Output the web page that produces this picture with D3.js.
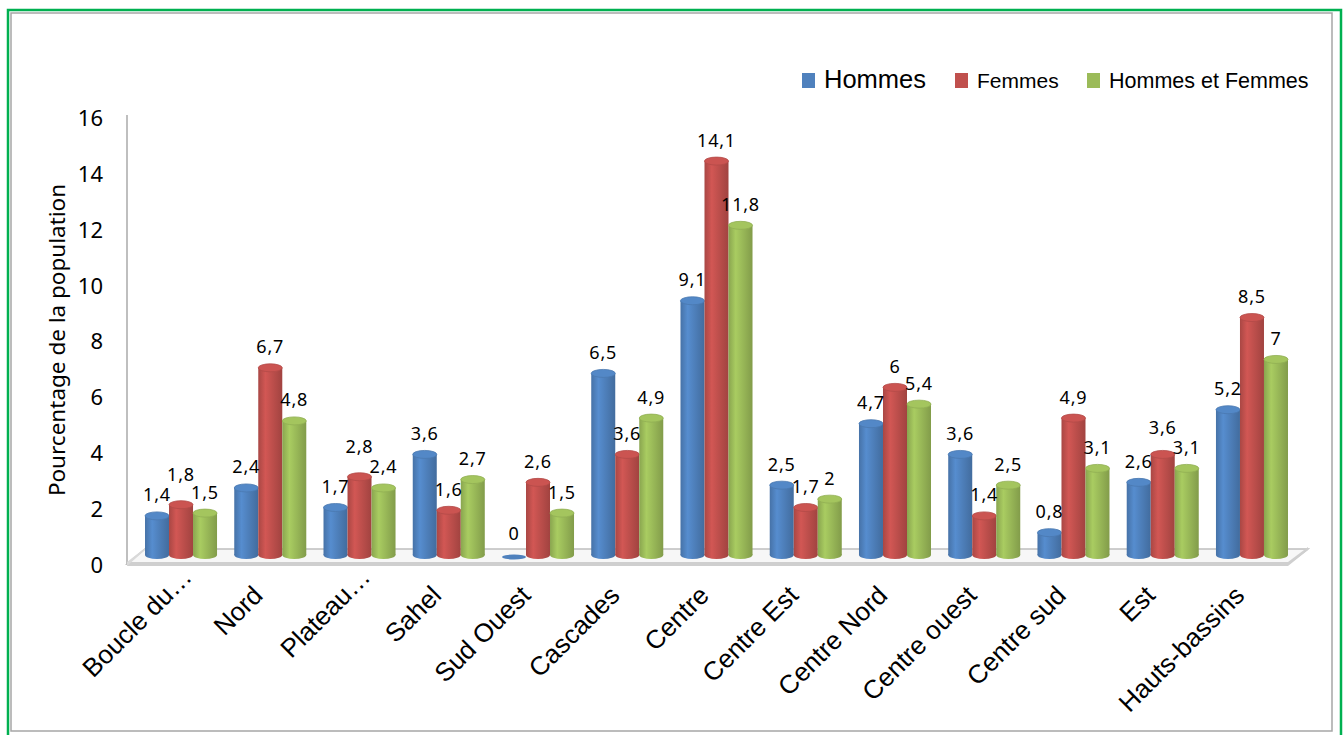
<!DOCTYPE html>
<html><head><meta charset="utf-8">
<script src="https://cdn.jsdelivr.net/npm/d3@7"></script>
<style>
html,body{margin:0;padding:0;background:#fff;}
svg{display:block;}
</style></head>
<body>
<svg id="chart" width="1343" height="735"></svg>
<script>
const categories = ["Boucle du\u2026","Nord","Plateau\u2026","Sahel","Sud Ouest","Cascades","Centre","Centre Est","Centre Nord","Centre ouest","Centre sud","Est","Hauts-bassins"];
const hommes = [1.4,2.4,1.7,3.6,0,6.5,9.1,2.5,4.7,3.6,0.8,2.6,5.2];
const femmes = [1.8,6.7,2.8,1.6,2.6,3.6,14.1,1.7,6,1.4,4.9,3.6,8.5];
const hommesEtFemmes = [1.5,4.8,2.4,2.7,1.5,4.9,11.8,2,5.4,2.5,3.1,3.1,7];
const seriesNames = ["Hommes","Femmes","Hommes et Femmes"];
const yTicks = [0,2,4,6,8,10,12,14,16];
const yTitle = "Pourcentage de la population";

const colors = ["#4F81BD","#C0504D","#9BBB59"];
const seriesData = [hommes, femmes, hommesEtFemmes];

const svg = d3.select("#chart");
const defs = svg.append("defs");

// frame
svg.append("rect").attr("x",8).attr("y",10).attr("width",1333).attr("height",730)
  .attr("fill","none").attr("stroke","#00B050").attr("stroke-width",2.5);
svg.append("rect").attr("x",11).attr("y",13).attr("width",1321).attr("height",718)
  .attr("fill","none").attr("stroke","#a6a6a6").attr("stroke-width",1.5);

// scales
const y = d3.scaleLinear().domain([0,16]).range([565,118]);
const depth = 10; // 3D depth offset for bars
const x0 = d3.scaleBand().domain(categories).range([136.4,1296.6]).paddingInner(0.193).paddingOuter(0.0965);
const x1 = d3.scaleBand().domain(seriesNames).range([0, x0.bandwidth()]);

// gradients
colors.forEach((c,i)=>{
  const g = defs.append("linearGradient").attr("id","g"+i).attr("x1","0%").attr("x2","100%").attr("y1","0%").attr("y2","0%");
  const base = d3.color(c);
  g.append("stop").attr("offset","0%").attr("stop-color",base.darker(0.35));
  g.append("stop").attr("offset","30%").attr("stop-color",base.brighter(0.25));
  g.append("stop").attr("offset","55%").attr("stop-color",base);
  g.append("stop").attr("offset","100%").attr("stop-color",base.darker(0.5));
});

// y axis line
svg.append("line").attr("x1",127).attr("x2",127).attr("y1",115).attr("y2",565)
  .attr("stroke","#bfbfbf").attr("stroke-width",2);

// floor
const fl = [[127,564],[1288,564],[1308,549],[145,549]];
svg.append("polygon").attr("points",fl.map(p=>p.join(",")).join(" "))
  .attr("fill","#f7f7f7").attr("stroke","#bfbfbf").attr("stroke-width",1.5);
svg.append("rect").attr("x",127).attr("y",562).attr("width",1161).attr("height",4).attr("fill","#cfcfcf");
svg.append("polygon").attr("points","1288,562 1308,547 1308,550 1288,566").attr("fill","#cfcfcf");
svg.append("polygon").attr("points","127,562 145,548 145,550 127,566").attr("fill","#d9d9d9");

// y ticks
svg.append("g").selectAll("text").data(yTicks).join("text")
  .attr("x",103).attr("y",d=>y(d)).attr("dy","0.36em").attr("text-anchor","end")
  .attr("font-family","Noto Sans, Open Sans, sans-serif").attr("font-size",22).attr("fill","#000")
  .text(d=>d);

// y title
svg.append("text").attr("transform","translate(65,340) rotate(-90)").attr("text-anchor","middle")
  .attr("font-family","Noto Sans, Open Sans, sans-serif").attr("font-size",22.5).attr("fill","#000")
  .text(yTitle);

// bars
const ry = 4;
const bw = x1.bandwidth();
const barsG = svg.append("g");
const labelsInfo = [];
categories.forEach((cat,ci)=>{
  seriesNames.forEach((s,si)=>{
    const v = seriesData[si][ci];
    const bx = x0(cat) + x1(s);
    const base = y(0) - depth;
    const top = y(v) - depth;
    const g = barsG.append("g");
    if (v > 0) {
      g.append("ellipse").attr("cx",bx+bw/2).attr("cy",base).attr("rx",bw/2).attr("ry",ry)
        .attr("fill",`url(#g${si})`);
      g.append("rect").attr("x",bx).attr("y",top).attr("width",bw).attr("height",base-top)
        .attr("fill",`url(#g${si})`);
      g.append("ellipse").attr("cx",bx+bw/2).attr("cy",top).attr("rx",bw/2).attr("ry",ry)
        .attr("fill",d3.color(colors[si]).brighter(0.15)).attr("stroke",d3.color(colors[si]).darker(0.2)).attr("stroke-width",0.8);
    } else {
      g.append("ellipse").attr("cx",bx+bw/2).attr("cy",base+2).attr("rx",bw/2).attr("ry",2.5)
        .attr("fill",colors[si]);
    }
    labelsInfo.push({ci, si, v, cx: bx+bw/2, cy: top - 21});
  });
});

// labels; when two neighbours collide, the higher value is lifted
const lg = svg.append("g").attr("font-family","Noto Sans, Open Sans, sans-serif").attr("font-size",18).attr("fill","#000");
labelsInfo.forEach(L=>{
  L.node = lg.append("text").attr("text-anchor","middle").attr("letter-spacing","0.8")
    .text(String(L.v).replace(".",","));
  L.w = L.node.node().getComputedTextLength();
});
categories.forEach((cat,ci)=>{
  const grp = labelsInfo.filter(L=>L.ci===ci);
  for (let k=0;k<grp.length-1;k++){
    const a = grp[k], b = grp[k+1];
    if (Math.abs(a.cy-b.cy) < 17 && Math.abs(a.cx-b.cx) < (a.w+b.w)/2+4) {
      if (a.v >= b.v) a.cy = b.cy - 20; else b.cy = a.cy - 20;
    }
  }
});
labelsInfo.forEach(L=>{ L.node.attr("x",L.cx).attr("y",L.cy).attr("dy","0.36em"); });

// category labels (ellipsis hangs past the tick, as in the original)
const catG = svg.append("g").attr("font-family","Liberation Sans, Arial, sans-serif").attr("font-size",26).attr("fill","#000");
categories.forEach(d=>{
  const tr = `translate(${x0(d)+x0.bandwidth()/2-6},597) rotate(-45)`;
  const trunc = d.endsWith("\u2026");
  catG.append("text").attr("transform",tr).attr("text-anchor","end").text(trunc ? d.slice(0,-1) : d);
  if (trunc) catG.append("text").attr("transform",tr).attr("text-anchor","start").text("\u2026");
});

// legend
const legX = [802, 955, 1087];
const legSize = [25.5, 21, 21.5];
seriesNames.forEach((s,i)=>{
  svg.append("rect").attr("x",legX[i]).attr("y",73).attr("width",13).attr("height",15).attr("fill",colors[i]);
  svg.append("text").attr("x",legX[i]+22).attr("y",88)
    .attr("font-family","Liberation Sans, Arial, sans-serif").attr("font-size",legSize[i]).attr("fill","#000")
    .text(s);
});
</script>
</body></html>
